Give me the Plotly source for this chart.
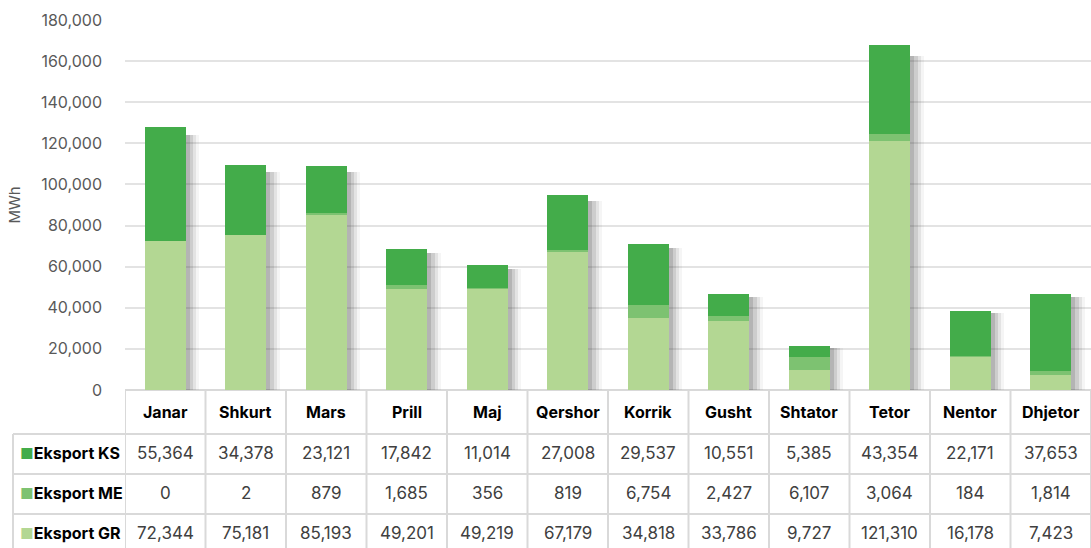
import plotly.graph_objects as go

months = ["Janar", "Shkurt", "Mars", "Prill", "Maj", "Qershor", "Korrik",
          "Gusht", "Shtator", "Tetor", "Nentor", "Dhjetor"]
eksport_ks = [55364, 34378, 23121, 17842, 11014, 27008, 29537, 10551, 5385, 43354, 22171, 37653]
eksport_me = [0, 2, 879, 1685, 356, 819, 6754, 2427, 6107, 3064, 184, 1814]
eksport_gr = [72344, 75181, 85193, 49201, 49219, 67179, 34818, 33786, 9727, 121310, 16178, 7423]
y_ticks = [0, 20000, 40000, 60000, 80000, 100000, 120000, 140000, 160000, 180000]
row_names = ["Eksport KS", "Eksport ME", "Eksport GR"]

C_KS = "#43AC4A"
C_ME = "#7DC271"
C_GR = "#B3D793"
row_colors = [C_KS, C_ME, C_GR]
FONT = "Inter"
GRID = "#D9D9D9"

W, H = 1091, 548
PLOT_LEFT = 125
ZERO_PX = 390          # pixel row of the zero line / table top
TOP_PX = 20            # pixel row of 180,000
HEADER_H = 44
ROW_H = 40
LABEL_LEFT = 13
YMAX = 180000

x0 = PLOT_LEFT / W
y_zero = (H - ZERO_PX) / H
y_top = (H - TOP_PX) / H

def py(px_from_top):
    return (H - px_from_top) / H

totals = [a + b + c for a, b, c in zip(eksport_ks, eksport_me, eksport_gr)]

fig = go.Figure()

# soft shadow layers, each on its own overlaid y axis so they don't stack
shadow_layers = [(0.17, 0.05), (0.13, 0.09), (0.09, 0.13), (0.05, 0.17)]
for k, (shift, op) in enumerate(shadow_layers):
    ya = "y" if k == 0 else f"y{k + 1}"
    fig.add_trace(go.Bar(
        x=months, y=[t * 0.97 for t in totals], xaxis="x", yaxis=ya,
        width=0.51, offset=-0.255 + shift,
        marker=dict(color=f"rgba(60,60,60,{op})", line=dict(width=0)),
        showlegend=False, hoverinfo="skip"))

main_ya_n = len(shadow_layers) + 1
main_ya = f"y{main_ya_n}"
series = [("Eksport GR", eksport_gr, C_GR), ("Eksport ME", eksport_me, C_ME),
          ("Eksport KS", eksport_ks, C_KS)]
for name, vals, col in series:
    fig.add_trace(go.Bar(
        x=months, y=vals, name=name, xaxis="x", yaxis=main_ya,
        width=0.51, offset=-0.255,
        marker=dict(color=col, line=dict(width=0)), showlegend=False))

# ---- data table below the chart (grid + text) ----
shapes = []
for i in range(len(months) + 1):
    shapes.append(dict(type="line", xref="x", yref="paper",
                       x0=i - 0.5, x1=i - 0.5, y0=0, y1=py(ZERO_PX),
                       line=dict(color=GRID, width=2)))
row_tops = [ZERO_PX + HEADER_H + ROW_H * r for r in range(3)]
shapes.append(dict(type="line", xref="paper", yref="paper",
                   x0=LABEL_LEFT / W, x1=LABEL_LEFT / W, y0=0, y1=py(row_tops[0]),
                   line=dict(color=GRID, width=2)))
for rt in row_tops:
    shapes.append(dict(type="line", xref="paper", yref="paper",
                       x0=LABEL_LEFT / W, x1=1, y0=py(rt), y1=py(rt),
                       line=dict(color=GRID, width=2)))

annotations = []
hdr_c = ZERO_PX + HEADER_H / 2
for m in months:
    annotations.append(dict(xref="x", yref="paper", x=m, y=py(hdr_c),
                            xanchor="center", yanchor="middle", showarrow=False,
                            text=f"<b>{m}</b>",
                            font=dict(family=FONT, size=16, color="#000000")))
for r, (nm, col, vals) in enumerate(zip(row_names, row_colors,
                                        [eksport_ks, eksport_me, eksport_gr])):
    yc = row_tops[r] + ROW_H / 2 - 1
    annotations.append(dict(
        xref="paper", yref="paper", x=18 / W, y=py(yc),
        xanchor="left", yanchor="middle", showarrow=False,
        text=f'<span style="color:{col};font-size:15px">■</span><b>{nm}</b>',
        font=dict(family=FONT, size=16, color="#000000")))
    for m, v in zip(months, vals):
        annotations.append(dict(
            xref="x", yref="paper", x=m, y=py(yc),
            xanchor="center", yanchor="middle", showarrow=False,
            text=f"{v:,}", font=dict(family=FONT, size=17, color="#404040")))

layout = dict(
    width=W, height=H,
    margin=dict(l=0, r=0, t=0, b=0),
    paper_bgcolor="white", plot_bgcolor="white",
    barmode="stack", bargap=0.49,
    font=dict(family=FONT, color="#595959"),
    annotations=annotations, shapes=shapes,
    xaxis=dict(domain=[x0, 1], range=[-0.5, 11.5], showticklabels=False,
               showgrid=False, zeroline=False, automargin=False),
    yaxis=dict(domain=[y_zero, y_top], range=[0, YMAX],
               tickvals=y_ticks, tickformat=",d",
               tickfont=dict(size=16, color="#595959"),
               showgrid=True, gridcolor="#E3E3E3", gridwidth=1.5,
               zeroline=True, zerolinecolor=GRID, zerolinewidth=2,
               ticklabelstandoff=22, automargin=False,
               title=dict(text="MWh", font=dict(size=15, color="#595959"),
                          standoff=16)),
)
for n in range(2, main_ya_n + 1):
    layout[f"yaxis{n}"] = dict(domain=[y_zero, y_top], range=[0, YMAX], overlaying="y",
                               visible=False, showgrid=False, zeroline=False)
fig.update_layout(**layout)

fig.write_html("out.html", config={"displayModeBar": False},
               post_script="document.body.style.margin='0';")
